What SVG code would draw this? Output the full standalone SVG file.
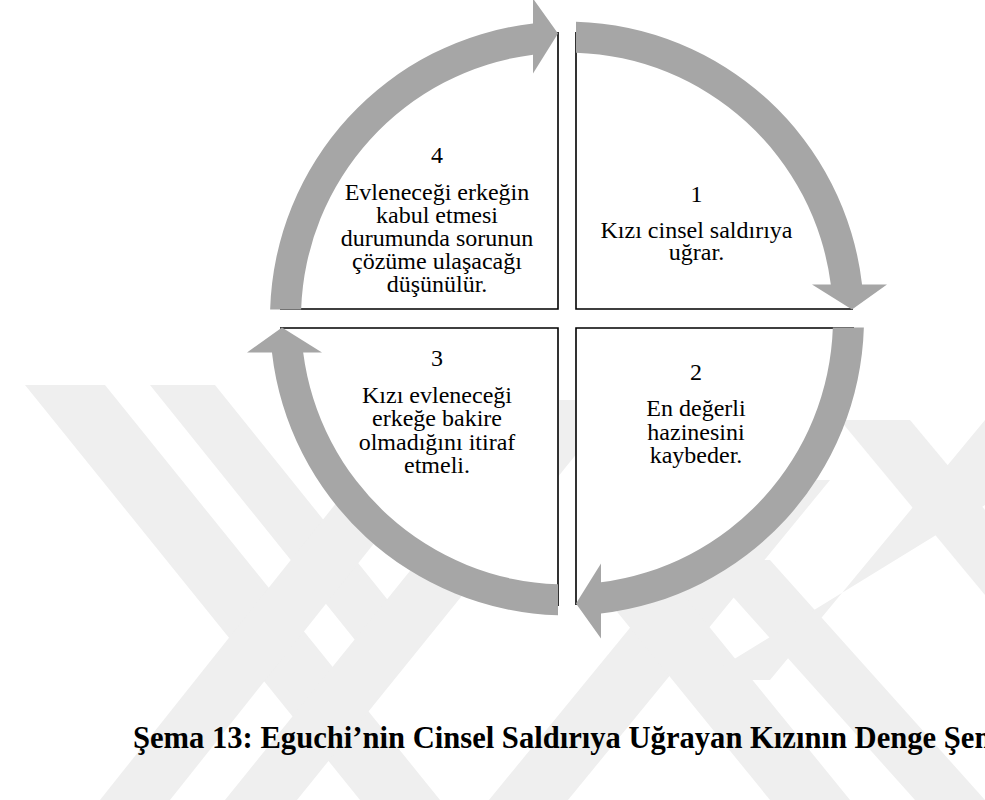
<svg xmlns="http://www.w3.org/2000/svg" width="985" height="800" viewBox="0 0 985 800">
<style>
.wm{fill:#efefef}
.arrow{fill:#a6a6a6}
.sector{fill:#fff}
.edge{fill:none;stroke:#000;stroke-width:1.6}
.t{font-family:"Liberation Serif","Times New Roman",serif;font-size:24px;fill:#000;text-anchor:middle}
.cap{font-family:"Liberation Serif","Times New Roman",serif;font-size:30.6px;font-weight:bold;fill:#000}
</style>
<defs>
<path id="arc" d="M9,-296.86 A297,297 0 0 1 295.05,-34 L320,-34 L285,-9 L245,-34 L263.82,-34 A266,266 0 0 0 9,-265.85 Z"/>
</defs>
<rect width="985" height="800" fill="#fff"/>
<g id="watermark">
<polygon class="wm" points="25,385 105,385 440,800 360,800"/>
<polygon class="wm" points="150,385 215,385 420,640 355,640"/>
<polygon class="wm" points="100,800 170,800 500,385 430,385"/>
<polygon class="wm" points="225,800 297,800 620,400 548,400"/>
<polygon class="wm" points="489,800 568,800 830,480 751,480"/>
<polygon class="wm" points="575,560 655,560 850,800 770,800"/>
<polygon class="wm" points="700,560 770,560 985,800 915,800"/>
<polygon class="wm" points="700,680 770,680 985,420 985,505"/>
<polygon class="wm" points="840,420 910,420 985,510 985,595"/>
</g>
<g id="node1">
<path class="sector" d="M576,309 L576,29 A280,280 0 0 1 856,309 Z"/>
<path class="edge" d="M576,32 L576,309 L853,309"/>
<text class="t" x="696.5" y="201.5">1</text>
<text class="t" x="696.5" y="237.5">Kızı cinsel saldırıya</text>
<text class="t" x="696.5" y="260">uğrar.</text>
</g>
<g id="node2">
<path class="sector" d="M576,328 L856,328 A280,280 0 0 1 576,608 Z"/>
<path class="edge" d="M854,328 L576,328 L576,605"/>
<text class="t" x="696" y="379.5">2</text>
<text class="t" x="696" y="416">En değerli</text>
<text class="t" x="696" y="439.5">hazinesini</text>
<text class="t" x="696" y="463">kaybeder.</text>
</g>
<g id="node3">
<path class="sector" d="M558,328 L558,608 A280,280 0 0 1 278,328 Z"/>
<path class="edge" d="M280,328 L558,328 L558,606"/>
<text class="t" x="437" y="366">3</text>
<text class="t" x="437" y="402.5">Kızı evleneceği</text>
<text class="t" x="437" y="426">erkeğe bakire</text>
<text class="t" x="437" y="449.5">olmadığını itiraf</text>
<text class="t" x="437" y="473">etmeli.</text>
</g>
<g id="node4">
<path class="sector" d="M558,309 L278,309 A280,280 0 0 1 558,29 Z"/>
<path class="edge" d="M558,32 L558,309 L280,309"/>
<text class="t" x="437" y="163">4</text>
<text class="t" x="437" y="199.5">Evleneceği erkeğin</text>
<text class="t" x="437" y="222.5">kabul etmesi</text>
<text class="t" x="437" y="245.5">durumunda sorunun</text>
<text class="t" x="437" y="268.5">çözüme ulaşacağı</text>
<text class="t" x="437" y="291.5">düşünülür.</text>
</g>
<g id="connectors">
<use href="#arc" class="arrow" transform="translate(567,318.5)"/>
<use href="#arc" class="arrow" transform="translate(567,318.5) rotate(90)"/>
<use href="#arc" class="arrow" transform="translate(567,318.5) rotate(180)"/>
<use href="#arc" class="arrow" transform="translate(567,318.5) rotate(270)"/>
</g>
<text class="cap" x="133" y="748">Şema 13: Eguchi’nin Cinsel Saldırıya Uğrayan Kızının Denge Şeması</text>
</svg>
